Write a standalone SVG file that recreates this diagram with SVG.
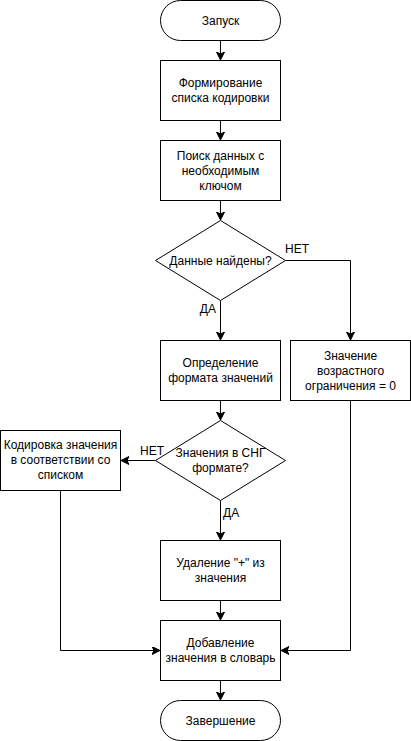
<svg xmlns="http://www.w3.org/2000/svg" width="411" height="741" viewBox="0 0 411 741">
<defs>
<marker id="arr" markerUnits="userSpaceOnUse" markerWidth="10" markerHeight="10" refX="8" refY="4" orient="auto">
<path d="M0,0 L8,4 L0,8 L2,4 Z" fill="#000" stroke="#000" stroke-width="1"/>
</marker>
<style>
.shape{fill:#fff;stroke:#000;stroke-width:1}
.t{font-family:"Liberation Sans",Arial,Helvetica,sans-serif;font-size:12px;fill:#000;text-anchor:middle}
.l{font-family:"Liberation Sans",Arial,Helvetica,sans-serif;font-size:12px;fill:#000}
.c{fill:none;stroke:#000;stroke-width:1;marker-end:url(#arr)}
</style>
</defs>
<rect width="411" height="741" fill="#fff"/>
<g id="connectors">
<path class="c" d="M220.5,40.5 L220.5,60"/>
<path class="c" d="M220.5,120.5 L220.5,140"/>
<path class="c" d="M220.5,200.5 L220.5,220"/>
<path class="c" d="M220.5,300.5 L220.5,340"/>
<path class="c" d="M285.5,260.5 L350.5,260.5 L350.5,340"/>
<path class="c" d="M220.5,400.5 L220.5,420"/>
<path class="c" d="M155.5,460.5 L121,460.5"/>
<path class="c" d="M220.5,500.5 L220.5,540"/>
<path class="c" d="M220.5,600.5 L220.5,620"/>
<path class="c" d="M60.5,490.5 L60.5,650.5 L160,650.5"/>
<path class="c" d="M350.5,400.5 L350.5,650.5 L281,650.5"/>
<path class="c" d="M220.5,680.5 L220.5,700"/>
<text class="l" x="285" y="253">НЕТ</text>
<text class="l" x="216" y="313" text-anchor="end">ДА</text>
<text class="l" x="140" y="455">НЕТ</text>
<text class="l" x="223" y="517">ДА</text>
</g>
<g id="start">
<rect class="shape" x="160.5" y="0.5" width="120" height="40" rx="20" ry="20"/>
<text class="t" x="220.5" y="24.8">Запуск</text>
</g>
<g id="form-list">
<rect class="shape" x="160.5" y="60.5" width="120" height="60"/>
<text class="t" x="220.5" y="87.3">Формирование</text>
<text class="t" x="220.5" y="102.3">списка кодировки</text>
</g>
<g id="search">
<rect class="shape" x="160.5" y="140.5" width="120" height="60"/>
<text class="t" x="220.5" y="160.3">Поиск данных с</text>
<text class="t" x="220.5" y="175.3">необходимым</text>
<text class="t" x="220.5" y="190.3">ключом</text>
</g>
<g id="found">
<polygon class="shape" points="220.5,220.5 285.5,260.5 220.5,300.5 155.5,260.5"/>
<text class="t" x="220.5" y="264.8">Данные найдены?</text>
</g>
<g id="format">
<rect class="shape" x="160.5" y="340.5" width="120" height="60"/>
<text class="t" x="220.5" y="367.3">Определение</text>
<text class="t" x="220.5" y="382.3">формата значений</text>
</g>
<g id="age-zero">
<rect class="shape" x="290.5" y="340.5" width="120" height="60"/>
<text class="t" x="350.5" y="360.3">Значение</text>
<text class="t" x="350.5" y="375.3">возрастного</text>
<text class="t" x="350.5" y="390.3">ограничения = 0</text>
</g>
<g id="cis">
<polygon class="shape" points="220.5,420.5 285.5,460.5 220.5,500.5 155.5,460.5"/>
<text class="t" x="220.5" y="457.3">Значения в СНГ</text>
<text class="t" x="220.5" y="472.3">формате?</text>
</g>
<g id="encode">
<rect class="shape" x="0.5" y="430.5" width="120" height="60"/>
<text class="t" x="60.5" y="449.3">Кодировка значения</text>
<text class="t" x="60.5" y="464.3">в соответствии со</text>
<text class="t" x="60.5" y="479.3">списком</text>
</g>
<g id="remove-plus">
<rect class="shape" x="160.5" y="540.5" width="120" height="60"/>
<text class="t" x="220.5" y="567.3">Удаление "+" из</text>
<text class="t" x="220.5" y="582.3">значения</text>
</g>
<g id="add">
<rect class="shape" x="160.5" y="620.5" width="120" height="60"/>
<text class="t" x="220.5" y="647.3">Добавление</text>
<text class="t" x="220.5" y="662.3">значения в словарь</text>
</g>
<g id="end">
<rect class="shape" x="160.5" y="700.5" width="120" height="40" rx="20" ry="20"/>
<text class="t" x="220.5" y="724.8">Завершение</text>
</g>
</svg>
